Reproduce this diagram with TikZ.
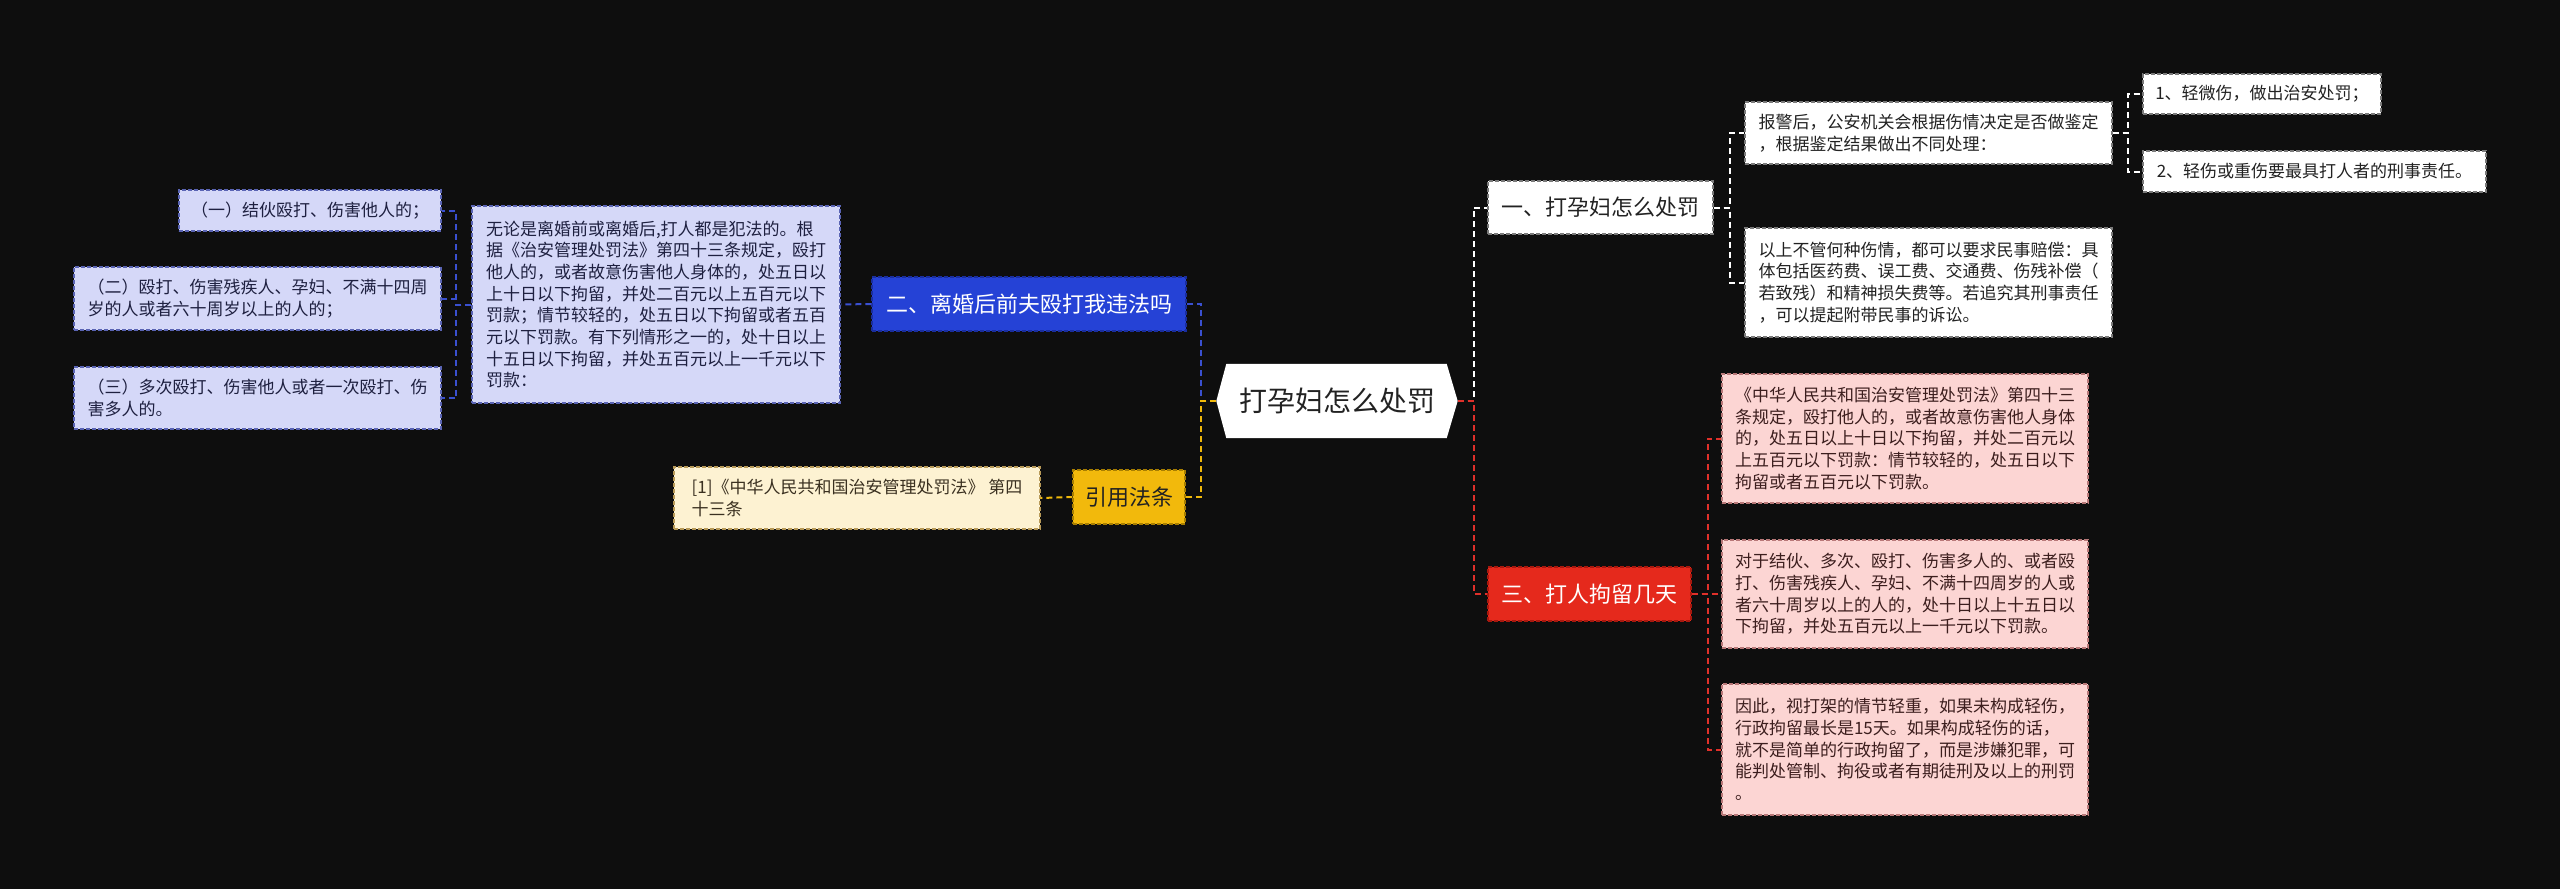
\documentclass[tikz,border=0pt]{standalone}
\usepackage{fontspec}
\setmainfont{Noto Sans CJK SC}
\usetikzlibrary{backgrounds}
\definecolor{bgc}{HTML}{0E0E0E}
\definecolor{lavfill}{HTML}{D5D8F8}
\definecolor{lavdraw}{HTML}{5A64B4}
\definecolor{lavtext}{HTML}{1E2040}
\definecolor{bluefill}{HTML}{2542D6}
\definecolor{bluedraw}{HTML}{1A2E9E}
\definecolor{bluel}{HTML}{3A50D0}
\definecolor{yelfill}{HTML}{F2B90C}
\definecolor{yeldraw}{HTML}{A87E00}
\definecolor{yell}{HTML}{F0B90B}
\definecolor{creamfill}{HTML}{FDF2D2}
\definecolor{creamdraw}{HTML}{B89A58}
\definecolor{creamtext}{HTML}{3A3020}
\definecolor{redfill}{HTML}{E5291C}
\definecolor{reddraw}{HTML}{A8180E}
\definecolor{redl}{HTML}{E0302A}
\definecolor{pinkfill}{HTML}{FCD5D3}
\definecolor{pinkdraw}{HTML}{B87878}
\definecolor{pinktext}{HTML}{3C1E1E}
\definecolor{whdraw}{HTML}{7A7A7A}
\definecolor{darktext}{HTML}{222222}
\begin{document}
\begin{tikzpicture}[x=1pt,y=-1pt,
  box/.style={rectangle, draw, dash pattern=on 4pt off 2pt, line width=1.2pt,
    inner xsep=10pt, inner ysep=4pt, align=left,
    font=\fontsize{17}{21.7}\selectfont},
  lav/.style={box, fill=lavfill, draw=lavdraw, text=lavtext},
  cream/.style={box, fill=creamfill, draw=creamdraw, text=creamtext},
  pink/.style={box, fill=pinkfill, draw=pinkdraw, text=pinktext},
  whbox/.style={box, fill=white, draw=whdraw, text=darktext},
  mainbox/.style={rectangle, draw, dash pattern=on 4pt off 2pt, line width=1.2pt,
    inner xsep=10pt, inner ysep=4pt, font=\fontsize{22}{26}\selectfont},
  link/.style={line width=2pt, dash pattern=on 6pt off 4pt}
]
\useasboundingbox (0,0) rectangle (2560,889);

% root
\node[inner sep=0pt, minimum width=241, minimum height=74, text=darktext,
  font=\fontsize{28}{32}\selectfont] (root) at (1337,401) {打孕妇怎么处罚};
\begin{scope}[on background layer]
  \fill[bgc] (0,0) rectangle (2560,889);
  \fill[white] (root.west) -- ([xshift=10pt]root.north west) -- ([xshift=-11pt]root.north east)
    -- (root.east) -- ([xshift=-11pt]root.south east) -- ([xshift=10pt]root.south west) -- cycle;
\end{scope}

% left branch
\node[mainbox, fill=bluefill, draw=bluedraw, text=white, minimum width=314, minimum height=54] (n2) at (1029,304) {二、离婚后前夫殴打我违法吗};
\node[lav, minimum width=368, minimum height=197] (big) at (656,304.5) {无论是离婚前或离婚后,打人都是犯法的。根\\据《治安管理处罚法》第四十三条规定，殴打\\他人的，或者故意伤害他人身体的，处五日以\\上十日以下拘留，并处二百元以上五百元以下\\罚款；情节较轻的，处五日以下拘留或者五百\\元以下罚款。有下列情形之一的，处十日以上\\十五日以下拘留，并处五百元以上一千元以下\\罚款：};
\node[lav, minimum width=262, minimum height=41] (s1) at (310,210.5) {（一）结伙殴打、伤害他人的；};
\node[lav, minimum width=367, minimum height=63] (s2) at (257.5,298.5) {（二）殴打、伤害残疾人、孕妇、不满十四周\\岁的人或者六十周岁以上的人的；};
\node[lav, minimum width=367, minimum height=62] (s3) at (257.5,398) {（三）多次殴打、伤害他人或者一次殴打、伤\\害多人的。};

\node[mainbox, fill=yelfill, draw=yeldraw, text=darktext, minimum width=112, minimum height=54] (yl) at (1129,497) {引用法条};
\node[cream, minimum width=366, minimum height=62] (ref) at (857,498) {[1]《中华人民共和国治安管理处罚法》 第四\\十三条};

% right branch
\node[mainbox, fill=white, draw=whdraw, text=darktext, minimum width=225, minimum height=53] (n1) at (1600.5,207.5) {一、打孕妇怎么处罚};
\node[whbox, minimum width=367, minimum height=62] (a) at (1928.5,133) {报警后，公安机关会根据伤情决定是否做鉴定\\，根据鉴定结果做出不同处理：};
\node[whbox, minimum width=367, minimum height=109] (b) at (1928.5,282.5) {以上不管何种伤情，都可以要求民事赔偿：具\\体包括医药费、误工费、交通费、伤残补偿（\\若致残）和精神损失费等。若追究其刑事责任\\，可以提起附带民事的诉讼。};
\node[whbox, minimum width=238, minimum height=40] (c1) at (2262,94) {1、轻微伤，做出治安处罚；};
\node[whbox, minimum width=343, minimum height=41] (c2) at (2314.5,171.5) {2、轻伤或重伤要最具打人者的刑事责任。};

\node[mainbox, fill=redfill, draw=reddraw, text=white, minimum width=203, minimum height=54] (n3) at (1589.5,594) {三、打人拘留几天};
\node[pink, minimum width=366, minimum height=129] (r1) at (1905,438.5) {《中华人民共和国治安管理处罚法》第四十三\\条规定，殴打他人的，或者故意伤害他人身体\\的，处五日以上十日以下拘留，并处二百元以\\上五百元以下罚款：情节较轻的，处五日以下\\拘留或者五百元以下罚款。};
\node[pink, minimum width=366, minimum height=108] (r2) at (1905,594) {对于结伙、多次、殴打、伤害多人的、或者殴\\打、伤害残疾人、孕妇、不满十四周岁的人或\\者六十周岁以上的人的，处十日以上十五日以\\下拘留，并处五百元以上一千元以下罚款。};
\node[pink, minimum width=366, minimum height=131] (r3) at (1905,749.5) {因此，视打架的情节轻重，如果未构成轻伤，\\行政拘留最长是15天。如果构成轻伤的话，\\就不是简单的行政拘留了，而是涉嫌犯罪，可\\能判处管制、拘役或者有期徒刑及以上的刑罚\\。};

% connectors
\draw[link, bluel] (root.west) -- ++(-15,0) |- (n2.east);
\draw[link, yell] (root.west) -- ++(-15,0) |- (yl.east);
\draw[link, bluel] (n2.west) -- (big.east);
\draw[link, bluel] (big.west) -- ++(-15,0) |- (s1.east);
\draw[link, bluel] (big.west) -- ++(-15,0) |- (s2.east);
\draw[link, bluel] (big.west) -- ++(-15,0) |- (s3.east);
\draw[link, yell] (yl.west) -- (ref.east);

\draw[link, white] (root.east) -- ++(16,0) |- (n1.west);
\draw[link, redl] (root.east) -- ++(16,0) |- (n3.west);
\draw[link, white] (n1.east) -- ++(16,0) |- (a.west);
\draw[link, white] (n1.east) -- ++(16,0) |- (b.west);
\draw[link, white] (a.east) -- ++(15,0) |- (c1.west);
\draw[link, white] (a.east) -- ++(15,0) |- (c2.west);
\draw[link, redl] (n3.east) -- ++(16,0) |- (r1.west);
\draw[link, redl] (n3.east) -- ++(16,0) |- (r2.west);
\draw[link, redl] (n3.east) -- ++(16,0) |- (r3.west);
\end{tikzpicture}
\end{document}
